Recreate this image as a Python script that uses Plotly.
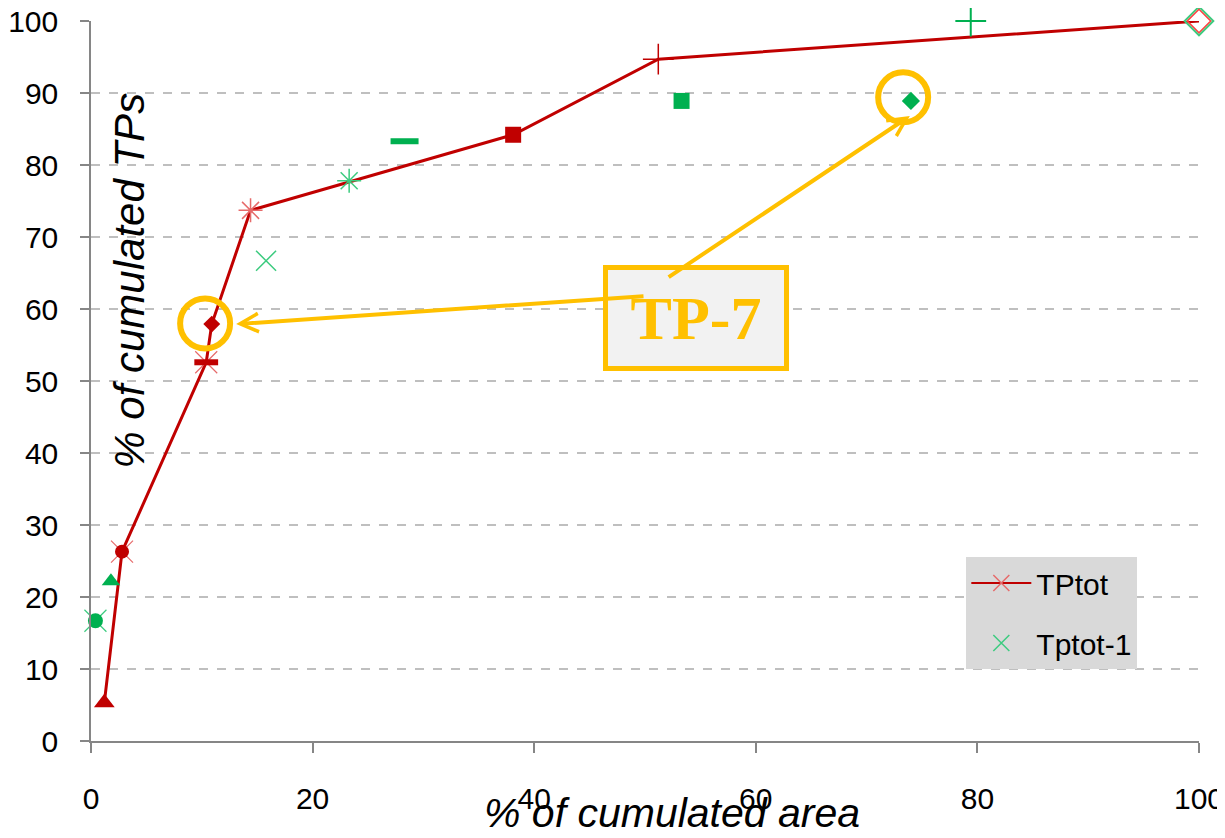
import plotly.graph_objects as go

# ---- data ----
red_x = [1.2, 2.8, 10.4, 10.9, 14.4, 38.1, 51.2, 100]
red_y = [5.3, 26.3, 52.6, 57.9, 73.7, 84.2, 94.7, 100]
green_x = [0.4, 1.8, 15.8, 23.3, 28.3, 53.3, 74.0, 79.4, 100]
green_y = [16.7, 22.2, 66.7, 77.8, 83.3, 88.9, 88.9, 100, 100]
x_ticks = [0, 20, 40, 60, 80, 100]
y_ticks = [0, 10, 20, 30, 40, 50, 60, 70, 80, 90, 100]
series_names = ["TPtot", "Tptot-1"]

# ---- per-point marker styles ----
RED = "#C00000"
RED_L = "#E66A6A"
GRN = "#00B050"
GRN_L = "#3CCB7F"
GOLD = "#FFC000"

red_sym = ["triangle-up", "circle", "line-ew", "diamond", "asterisk-open", "square", "cross-thin-open", "diamond-open"]
red_size = [18, 14, 17, 13, 20, 16, 22, 18]
red_lw = [0, 0, 6, 0, 1.5, 0, 1.5, 1.5]
red_col = [RED, RED, RED, RED, RED_L, RED, RED, "#FF4040"]
red_faint_idx = [1, 2]

green_sym = ["circle", "triangle-up", "x-thin-open", "asterisk-open", "line-ew", "square", "diamond", "cross-thin-open", "diamond-open"]
green_size = [15, 16, 20, 20, 20, 16, 14, 22, 22]
green_lw = [0, 0, 1.5, 1.5, 6, 0, 0, 2, 2]
green_col = [GRN, GRN, GRN_L, GRN_L, GRN, GRN, GRN, GRN, GRN_L]
green_faint_idx = [0]

fig = go.Figure()

# red line
fig.add_trace(go.Scatter(x=red_x, y=red_y, mode="lines", line=dict(color=RED, width=3),
                         showlegend=False, cliponaxis=False, hoverinfo="skip"))
# green faint X
fig.add_trace(go.Scatter(x=[green_x[i] for i in green_faint_idx], y=[green_y[i] for i in green_faint_idx],
                         mode="markers", showlegend=False, cliponaxis=False,
                         marker=dict(symbol="x-thin-open", size=22, color=GRN_L, opacity=1,
                                     line=dict(color=GRN_L, width=1.2))))
# green markers
fig.add_trace(go.Scatter(x=green_x, y=green_y, mode="markers", showlegend=False, cliponaxis=False,
                         marker=dict(symbol=green_sym, size=green_size, color=green_col, opacity=1,
                                     line=dict(color=green_col, width=green_lw))))
# red faint X
fig.add_trace(go.Scatter(x=[red_x[i] for i in red_faint_idx], y=[red_y[i] for i in red_faint_idx],
                         mode="markers", showlegend=False, cliponaxis=False,
                         marker=dict(symbol="x-thin-open", size=22, color=RED_L, opacity=1,
                                     line=dict(color=RED_L, width=1.2))))
# red markers
fig.add_trace(go.Scatter(x=red_x, y=red_y, mode="markers", showlegend=False, cliponaxis=False,
                         marker=dict(symbol=red_sym, size=red_size, color=red_col, opacity=1,
                                     line=dict(color=red_col, width=red_lw))))

# legend entries
fig.add_trace(go.Scatter(x=[None], y=[None], mode="lines+markers", name=series_names[0],
                         legendgroup="a", line=dict(color=RED, width=2),
                         marker=dict(symbol="x-thin-open", size=16, color=RED_L,
                                     line=dict(color=RED_L, width=1.5))))
fig.add_trace(go.Scatter(x=[None], y=[None], mode="markers", name=series_names[1],
                         legendgroup="b",
                         marker=dict(symbol="x-thin-open", size=16, color=GRN_L,
                                     line=dict(color=GRN_L, width=1.5))))

# highlight circles
for cx, cy in [(10.3, 58.0), (73.3, 89.4)]:
    fig.add_shape(type="circle", xref="x", yref="y", xsizemode="pixel", ysizemode="pixel",
                  xanchor=cx, yanchor=cy, x0=-25, x1=25, y0=-25, y1=25,
                  line=dict(color=GOLD, width=6))

font_fam = "Liberation Sans, Arial, sans-serif"

annotations = [
    dict(x=54.6, y=58.75, xref="x", yref="y", text="<b>TP-7</b>", showarrow=False,
         font=dict(family="Liberation Serif, Times New Roman, serif", size=62, color=GOLD),
         bgcolor="#F2F2F2", bordercolor=GOLD, borderwidth=5, borderpad=0, width=176, height=96),
    dict(x=13.1, y=57.9, ax=50.0, ay=61.8, xref="x", yref="y", axref="x", ayref="y", text="",
         showarrow=True, arrowhead=5, arrowsize=0.9, arrowwidth=4, arrowcolor=GOLD, standoff=0),
    dict(x=73.9, y=86.8, ax=52.0, ay=64.3, xref="x", yref="y", axref="x", ayref="y", text="",
         showarrow=True, arrowhead=5, arrowsize=0.9, arrowwidth=4, arrowcolor=GOLD, standoff=0),
    dict(x=0.524, y=-0.1, xref="paper", yref="paper", xanchor="center", yanchor="middle",
         text="<i>% of cumulated area</i>",
         showarrow=False, font=dict(family=font_fam, size=41, color="black")),
    dict(x=0.035, y=0.639, xref="paper", yref="paper", xanchor="center", yanchor="middle",
         text="<i>% of cumulated TPs</i>", textangle=-90,
         showarrow=False, font=dict(family=font_fam, size=42, color="black")),
]

# page body has an 8px margin, so the figure is sized/offset to compensate
fig.update_layout(
    width=1217, height=830,
    margin=dict(l=83, r=26, t=13, b=97, autoexpand=False),
    paper_bgcolor="white", plot_bgcolor="white",
    font=dict(family=font_fam, color="black"),
    annotations=annotations,
    showlegend=True,
    legend=dict(x=0.79, y=0.2556, xanchor="left", yanchor="top", bgcolor="#D9D9D9",
                font=dict(family=font_fam, size=30, color="black"), itemwidth=60,
                traceorder="grouped", tracegroupgap=18, borderwidth=0),
    xaxis=dict(range=[0, 100], tickvals=x_ticks, showgrid=False, zeroline=False,
               showline=True, linecolor="#868686", linewidth=2, automargin=False,
               ticks="outside", ticklen=10, tickcolor="#868686", tickwidth=1.5,
               tickfont=dict(size=30), ticklabelstandoff=20, ticklabeloverflow="allow"),
    yaxis=dict(range=[0, 100], tickvals=y_ticks, showgrid=True, gridcolor="#BFBFBF",
               griddash="dash", gridwidth=1.5, zeroline=False, automargin=False,
               showline=True, linecolor="#868686", linewidth=1.5,
               ticks="outside", ticklen=9, tickcolor="#868686", tickwidth=1.5,
               tickfont=dict(size=30), ticklabelstandoff=16, ticklabeloverflow="allow"),
)

fig.write_html("out.html")
